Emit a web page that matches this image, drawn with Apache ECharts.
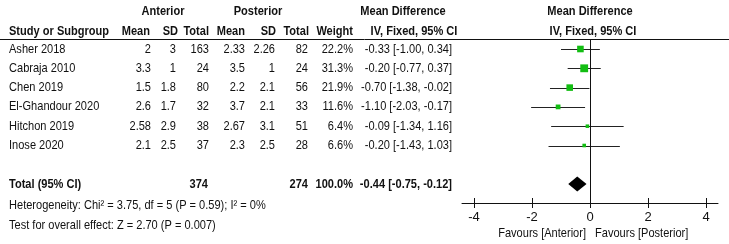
<!DOCTYPE html>
<html>
<head>
<meta charset="utf-8">
<script src="https://cdn.jsdelivr.net/npm/echarts@6/dist/echarts.min.js"></script>
<style>
  html, body { margin: 0; padding: 0; background: #fff; }
  #chart { width: 729px; height: 244px; }
</style>
</head>
<body>
<div id="chart"></div>
<script>
// study data
const studies = ['Asher 2018', 'Cabraja 2010', 'Chen 2019', 'El-Ghandour 2020', 'Hitchon 2019', 'Inose 2020']
const antMean = [2, 3.3, 1.5, 2.6, 2.58, 2.1]
const antSD = [3, 1, 1.8, 1.7, 2.9, 2.5]
const antTotal = [163, 24, 80, 32, 38, 37]
const postMean = [2.33, 3.5, 2.2, 3.7, 2.67, 2.3]
const postSD = [2.26, 1, 2.1, 2.1, 3.1, 2.5]
const postTotal = [82, 24, 56, 33, 51, 28]
const weights = [22.2, 31.3, 21.9, 11.6, 6.4, 6.6]
const md = [-0.33, -0.20, -0.70, -1.10, -0.09, -0.20]
const ciLow = [-1.00, -0.77, -1.38, -2.03, -1.34, -1.43]
const ciHigh = [0.34, 0.37, -0.02, -0.17, 1.16, 1.03]

// pooled result
const totalN = [374, 274]
const totalWeight = 100.0
const pooled = [-0.44, -0.75, -0.12] // estimate, low, high
const heterogeneity = 'Heterogeneity: Chi² = 3.75, df = 5 (P = 0.59); I² = 0%'
const overallTest = 'Test for overall effect: Z = 2.70 (P = 0.007)'

const xTicks = [-4, -2, 0, 2, 4]
const favours = ['Favours [Anterior]', 'Favours [Posterior]']

// layout
const W = 729, H = 244
const rowTop = 49, rowH = 19.3
const plotLeft = 462, plotRight = 718, plotTop = 39, plotBottom = 203
const zeroX = 590, pxPerUnit = 29
const totalRow = 7
const FONT = '"Liberation Sans", Arial, sans-serif'
const squeeze = 0.85 // the original uses a narrow face
const ink = '#111'

const rowOf = px => (px - rowTop) / rowH

// table cells: [x, row, text, align, bold]
const cells = []
const add = (x, row, text, align, bold) => cells.push({ x, row, text: String(text), align, bold })

add(163, -1.93, 'Anterior', 'center', true)
add(258, -1.93, 'Posterior', 'center', true)
add(403, -1.93, 'Mean Difference', 'center', true)
add(590, -1.93, 'Mean Difference', 'center', true)
const subRow = -0.93
add(9, subRow, 'Study or Subgroup', 'left', true)
add(150, subRow, 'Mean', 'right', true)
add(178, subRow, 'SD', 'right', true)
add(209, subRow, 'Total', 'right', true)
add(245, subRow, 'Mean', 'right', true)
add(276, subRow, 'SD', 'right', true)
add(309, subRow, 'Total', 'right', true)
add(353, subRow, 'Weight', 'right', true)
add(414, subRow, 'IV, Fixed, 95% CI', 'center', true)
add(593, subRow, 'IV, Fixed, 95% CI', 'center', true)

studies.forEach((s, i) => {
  add(9, i, s, 'left', false)
  add(151, i, antMean[i], 'right', false)
  add(176, i, antSD[i], 'right', false)
  add(209, i, antTotal[i], 'right', false)
  add(245, i, postMean[i], 'right', false)
  add(275, i, postSD[i], 'right', false)
  add(308, i, postTotal[i], 'right', false)
  add(353, i, weights[i].toFixed(1) + '%', 'right', false)
  add(452, i, md[i].toFixed(2) + ' [' + ciLow[i].toFixed(2) + ', ' + ciHigh[i].toFixed(2) + ']', 'right', false)
})

add(9, totalRow, 'Total (95% CI)', 'left', true)
add(208, totalRow, totalN[0], 'right', true)
add(308, totalRow, totalN[1], 'right', true)
add(353, totalRow, totalWeight.toFixed(1) + '%', 'right', true)
add(452, totalRow, pooled[0].toFixed(2) + ' [' + pooled[1].toFixed(2) + ', ' + pooled[2].toFixed(2) + ']', 'right', true)
add(9, 8.12, heterogeneity, 'left', false)
add(9, 9.12, overallTest, 'left', false)
add(586, rowOf(233), favours[0], 'right', false)
add(595, rowOf(233), favours[1], 'left', false)

const chart = echarts.init(document.getElementById('chart'), null, { renderer: 'canvas' })

const xMin = (plotLeft - zeroX) / pxPerUnit
const xMax = (plotRight - zeroX) / pxPerUnit

chart.setOption({
  animation: false,
  grid: [
    { left: plotLeft, top: plotTop, width: plotRight - plotLeft, height: plotBottom - plotTop },
    { left: 0, top: 0, width: W, height: H }
  ],
  xAxis: [
    {
      gridIndex: 0, type: 'value', min: xMin, max: xMax, position: 'bottom',
      axisLine: { onZero: false, lineStyle: { color: ink, width: 1 } },
      axisTick: { show: true, customValues: xTicks, length: 5, lineStyle: { color: ink } },
      axisLabel: { customValues: xTicks, margin: 8, color: ink, fontSize: 13, fontFamily: FONT },
      splitLine: { show: false }
    },
    {
      gridIndex: 0, type: 'value', min: xMin, max: xMax, position: 'bottom',
      axisLine: { show: false, onZero: false },
      axisTick: { show: true, inside: true, customValues: xTicks, length: 5, lineStyle: { color: ink } },
      axisLabel: { show: false },
      splitLine: { show: false }
    },
    { gridIndex: 1, type: 'value', min: 0, max: W, show: false }
  ],
  yAxis: [
    { gridIndex: 0, type: 'value', inverse: true, min: rowOf(plotTop), max: rowOf(plotBottom), show: false },
    { gridIndex: 1, type: 'value', inverse: true, min: rowOf(0), max: rowOf(H), show: false }
  ],
  series: [
    {
      // CI whiskers
      type: 'custom', xAxisIndex: 0, yAxisIndex: 0,
      data: studies.map((s, i) => [ciLow[i], ciHigh[i], i]),
      renderItem: (params, api) => {
        const a = api.coord([api.value(0), api.value(2)])
        const b = api.coord([api.value(1), api.value(2)])
        return {
          type: 'line',
          shape: { x1: a[0], y1: Math.round(a[1]) + 0.5, x2: b[0], y2: Math.round(b[1]) + 0.5 },
          style: { stroke: '#222', lineWidth: 1.2 }
        }
      },
      markLine: {
        silent: true, symbol: 'none', label: { show: false },
        lineStyle: { color: ink, width: 1, type: 'solid' },
        data: [{ xAxis: 0 }]
      }
    },
    {
      // study estimates, square size by weight
      type: 'scatter', xAxisIndex: 0, yAxisIndex: 0, symbol: 'rect',
      data: studies.map((s, i) => [md[i], i, weights[i]]),
      symbolSize: v => 1.4 * Math.sqrt(v[2]),
      itemStyle: { color: '#12bd12', opacity: 1 }
    },
    {
      // pooled diamond
      type: 'custom', xAxisIndex: 0, yAxisIndex: 0,
      data: [[pooled[0], pooled[1], pooled[2], totalRow]],
      renderItem: (params, api) => {
        const c = api.coord([api.value(0), api.value(3)])
        const l = api.coord([api.value(1), api.value(3)])
        const r = api.coord([api.value(2), api.value(3)])
        const h = 7.5
        return {
          type: 'polygon',
          shape: { points: [[l[0], c[1]], [c[0], c[1] - h], [r[0], c[1]], [c[0], c[1] + h]] },
          style: { fill: '#000' }
        }
      }
    },
    {
      // table text
      type: 'custom', xAxisIndex: 2, yAxisIndex: 1,
      data: cells.map(c => [c.x, c.row]),
      renderItem: (params, api) => {
        const c = cells[params.dataIndex]
        const p = api.coord([api.value(0), api.value(1)])
        return {
          type: 'text', x: p[0], y: p[1], scaleX: squeeze,
          style: {
            text: c.text, align: c.align, verticalAlign: 'middle',
            fontSize: 13, fontFamily: FONT, fontWeight: c.bold ? 'bold' : 'normal', fill: ink
          }
        }
      },
      markLine: {
        silent: true, symbol: 'none', label: { show: false },
        lineStyle: { color: ink, width: 1, type: 'solid' },
        data: [{ yAxis: rowOf(plotTop) }]
      }
    }
  ]
})
</script>
</body>
</html>
